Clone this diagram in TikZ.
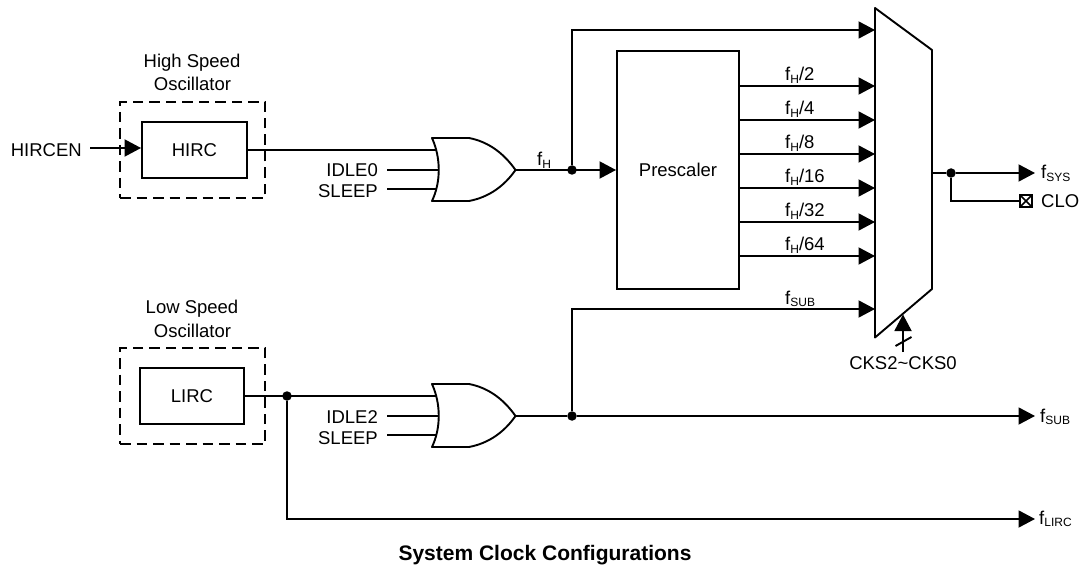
\documentclass[tikz,border=0pt]{standalone}
\usepackage{fontspec}
\setmainfont{Liberation Sans}
\usetikzlibrary{arrows.meta,calc}
\newcommand{\sbs}[1]{\raisebox{-2.8pt}{\fontsize{12}{12}\selectfont #1}}
\tikzset{
  wire/.style={line width=1.9pt,line cap=butt},
  arr/.style={wire,-{Triangle[length=16.5pt,width=17pt]}},
  blockbox/.style={draw,line width=1.9pt,rectangle,inner sep=0pt,font=\fontsize{18.5}{20}\selectfont},
  dashbox/.style={draw,line width=1.9pt,dash pattern=on 10.5pt off 6pt,rectangle,inner sep=0pt},
  lab/.style={inner sep=0pt,font=\fontsize{18.5}{20}\selectfont},
  sublab/.style={lab,anchor=base west},
  dotn/.style={circle,fill,inner sep=0pt,minimum size=9.5pt},
  gate/.style={line width=1.9pt,line join=round}
}
\newcommand{\orgate}[2]{%
  \coordinate (#1tl) at (432,#2-32);
  \coordinate (#1bl) at (432,#2+31);
  \coordinate (#1o) at (515.5,#2);
  \coordinate (#1a) at (436,#2-20);
  \coordinate (#1b) at (439,#2);
  \coordinate (#1c) at (436,#2+19);
  \draw[gate,fill=white] (#1tl) -- (469,#2-32) .. controls (490,#2-28) and (505,#2-15) .. (#1o)
     .. controls (505,#2+15) and (490,#2+27) .. (469,#2+31) -- (#1bl)
     .. controls (441,#2+12) and (441,#2-12) .. (#1tl) -- cycle;
}
\begin{document}
\begin{tikzpicture}[x=1pt,y=-1pt]
\useasboundingbox (0,0) rectangle (1080,567);
% oscillators
\node[dashbox,minimum width=145pt,minimum height=96pt] (hd) at (192.5,150) {};
\node[dashbox,minimum width=145pt,minimum height=96pt] (ld) at (192.5,396) {};
\node[blockbox,minimum width=105pt,minimum height=56pt,fill=none] (hirc) at (194.5,150) {HIRC};
\node[blockbox,minimum width=104.5pt,minimum height=56pt,fill=none] (lirc) at (192,396) {LIRC};
\node[lab] (hs) at (192,63) {High Speed};
\node[lab] (hs2) at (192.5,84) {Oscillator};
\node[lab] (ls) at (192,309) {Low Speed};
\node[lab] (ls2) at (192.5,331) {Oscillator};
% gates
\orgate{ga}{170}
\orgate{gb}{416}
% HIRCEN
\node[lab,anchor=east] (en) at (82,150) {HIRCEN};
\coordinate (ens) at (90,148);
\draw[arr] (ens) -- (ens -| hirc.west);
\draw[wire] (hirc.east |- gaa) -- (gaa);
\node[lab,anchor=east] (i0) at (378,170) {IDLE0};
\node[lab,anchor=east] (s0) at (378,191) {SLEEP};
\coordinate (w0a) at (387,170);
\coordinate (w0b) at (387,189);
\draw[wire] (w0a) -- (gab);
\draw[wire] (w0b) -- (gac);
% prescaler and mux
\node[blockbox,minimum width=122pt,minimum height=238pt,fill=none] (pre) at (678,170) {Prescaler};
\coordinate (m1) at (875,8);\coordinate (m2) at (932,50);\coordinate (m3) at (932,289);\coordinate (m4) at (875,337.5);
\draw[gate] (m1) -- (m2) -- (m3) -- (m4) -- cycle;
\node[dotn] (da) at (572,170) {};
\draw[arr] (gao) -- (pre.west |- gao);
\coordinate (t1) at (572,30);
\draw[arr] (da) -- (t1) -- (875,30);
\node[sublab] (fh) at (537,166) {f\sbs{H}};
% divided clocks
\foreach \yy/\dv [count=\n] in {86/2,120/4,154/8,188/16,222/32,256/64}{
  \coordinate (ps\n) at (739,\yy);
  \coordinate (mi\n) at (875,\yy);
  \draw[arr] (ps\n) -- (mi\n);
  \node[sublab] (dl\n) at (785,\yy-5) {f\sbs{H}/\dv};
}
% right outputs
\coordinate (mo) at (932,173);
\node[dotn] (db) at (951,173) {};
\coordinate (fsy) at (1035,173);
\draw[wire] (mo) -- (db);
\draw[arr] (db) -- (fsy);
\node[sublab] (fs) at (1041,179) {f\sbs{SYS}};
\node[draw,line width=2.2pt,minimum size=12.5pt,inner sep=0pt,path picture={\draw[line width=1.7pt] (path picture bounding box.north west)--(path picture bounding box.south east) (path picture bounding box.north east)--(path picture bounding box.south west);}] (clob) at (1026,201) {};
\draw[wire] (db) -- (db |- clob) -- (clob.west);
\node[lab,anchor=west] (clo) at (1041,201) {CLO};
% CKS
\coordinate (cs) at (903,352);
\coordinate (ce) at (903,314.5);
\draw[arr] (cs) -- (ce);
\draw[wire] (895.5,346) -- (911.5,337);
\node[lab] (ck) at (903,363) {CKS2\textasciitilde CKS0};
% lower part
\draw[wire] (lirc.east) -- (gba);
\node[dotn] (dc) at (287,396) {};
\node[lab,anchor=east] (i2) at (378,417) {IDLE2};
\node[lab,anchor=east] (s2) at (378,438) {SLEEP};
\coordinate (w2a) at (387,416);
\coordinate (w2b) at (387,435);
\draw[wire] (w2a) -- (gbb);
\draw[wire] (w2b) -- (gbc);
\node[dotn] (dd) at (572,416) {};
\draw[wire] (gbo) -- (dd);
\coordinate (fse) at (1035,416);
\draw[arr] (dd) -- (fse);
\node[sublab] (fs2) at (1040,422) {f\sbs{SUB}};
\coordinate (t2) at (572,309);
\draw[arr] (dd) -- (t2) -- (875,309);
\node[sublab] (fs3) at (785,304) {f\sbs{SUB}};
\coordinate (t3) at (287,519);
\coordinate (fle) at (1035,519);
\draw[arr] (dc) -- (t3) -- (fle);
\node[sublab] (fl) at (1039,524) {f\sbs{LIRC}};
\node[lab,font=\fontsize{21}{24}\selectfont\bfseries] (title) at (545,555) {System Clock Configurations};
\end{tikzpicture}
\end{document}
